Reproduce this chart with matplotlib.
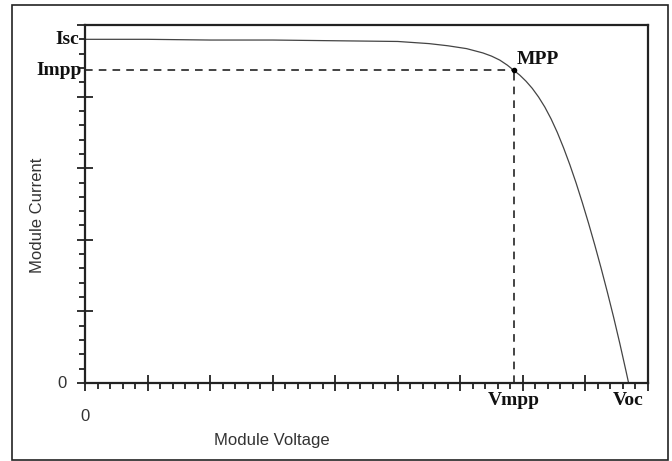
import numpy as np
import matplotlib
matplotlib.use('Agg')
import matplotlib.pyplot as plt
from matplotlib.patches import Rectangle
from matplotlib.ticker import MultipleLocator

#%% datos (unidades arbitrarias)
voltage = [0, 1, 2, 3, 4, 5, 5.5, 5.8, 6.1, 6.36, 6.5, 6.63, 6.75, 6.85,
           6.95, 7.05, 7.15, 7.25, 7.35, 7.45, 7.55, 7.65, 7.75, 7.85, 7.95,
           8.05, 8.15, 8.25, 8.35, 8.45, 8.55, 8.65, 8.69]
current = [4.80, 4.80, 4.79, 4.79, 4.78, 4.77, 4.74, 4.71, 4.67, 4.61, 4.565,
           4.51, 4.44, 4.37, 4.30, 4.215, 4.115, 3.995, 3.855, 3.69, 3.50,
           3.285, 3.05, 2.795, 2.52, 2.23, 1.925, 1.605, 1.27, 0.92, 0.55,
           0.16, 0]

v_mpp, i_mpp = 6.85, 4.37
v_oc, i_sc = 8.68, 4.80

x_labels = ['Vmpp', 'Voc']
y_labels = ['Isc', 'Impp']

#%% figura
fig = plt.figure(figsize=(6.72, 4.61), dpi=100)
ax = fig.add_axes([85/672, 1-383/461, (648-85)/672, (383-25)/461])

ax.plot(voltage, current, color='#444444', lw=0.9)
ax.plot([0, v_mpp], [i_mpp, i_mpp], ls=(0, (5, 4)), color='#111111', lw=1.1)
ax.plot([v_mpp, v_mpp], [0, i_mpp], ls=(0, (5, 4)), color='#111111', lw=1.1)
ax.plot([v_mpp], [i_mpp], 'o', color='black', ms=3)

ax.set_xlim(0, 9)
ax.set_ylim(0, 5)

# ejes y ticks
for s in ax.spines.values():
    s.set_linewidth(1.6)
    s.set_color('#222222')
ax.xaxis.set_major_locator(MultipleLocator(1))
ax.xaxis.set_minor_locator(MultipleLocator(0.2))
ax.yaxis.set_major_locator(MultipleLocator(1))
ax.yaxis.set_minor_locator(MultipleLocator(0.2))
ax.tick_params(which='major', direction='inout', length=11, width=1.3, color='#222222')
ax.tick_params(which='minor', direction='out', length=4, width=1.3, color='#222222')
ax.set_xticklabels([])
ax.set_yticklabels([])

# etiquetas especiales
serif = dict(family='Liberation Serif', weight='bold', fontsize=14, color='#111111')
sans = dict(family='Liberation Sans', fontsize=12, color='#333333')

ax.text(v_mpp, -0.24, x_labels[0], ha='center', va='center', **serif)
ax.text(v_oc, -0.24, x_labels[1], ha='center', va='center', **serif)
ax.text(-0.1, i_sc, y_labels[0], ha='right', va='center', **serif)
ax.text(-0.05, i_mpp, y_labels[1], ha='right', va='center', **serif)
ax.text(v_mpp + 0.05, i_mpp + 0.15, 'MPP', ha='left', va='center', **serif)

ax.text(0, -0.47, '0', ha='center', va='center', **sans)
ax.text(-0.3, 0, '0', ha='right', va='center', **sans)

fig.text(272/672, 1-440/461, 'Module Voltage', ha='center', va='center', **sans)
fig.text(38/672, 1-215/461, 'Module Current', ha='center', va='center',
         rotation=90, **sans)

# marco exterior
fig.patches.append(Rectangle((12/672, 1-460/461), (668-12)/672, (455)/461,
                             transform=fig.transFigure, fill=False,
                             edgecolor='#222222', lw=1.2))

fig.savefig('out.png', dpi=100)
